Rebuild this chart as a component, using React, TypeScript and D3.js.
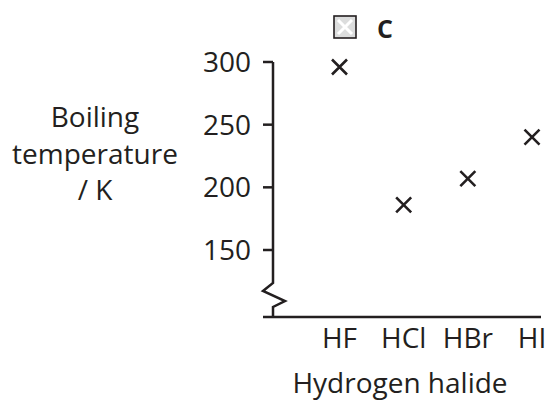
import React from "react";
import * as d3 from "d3";

const categories = ["HF", "HCl", "HBr", "HI"];
const boilingK = [296, 186, 207, 240];
const yTicks = [150, 200, 250, 300];
const yTitleLines = ["Boiling", "temperature", "/ K"];
const xTitle = "Hydrogen halide";
const legendLabel = "C";

const W = 547;
const H = 401;
const INK = "#231f20";
const FONT = "'Open Sans', 'Noto Sans', sans-serif";
const FS = 28;

export default function App() {
  const x = d3.scalePoint<string>().domain(categories).range([339.5, 532]);
  const y = d3.scaleLinear().domain([150, 300]).range([250, 62]);
  const axisX = 273;
  const baseY = 317;
  const breakTop = 283;
  const breakBottom = 308;
  const zig = d3.line()([
    [axisX, y(300)],
    [axisX, breakTop],
    [axisX - 10, breakTop + 8],
    [axisX + 12, breakTop + 18],
    [axisX, breakBottom - 1],
    [axisX, baseY],
  ]);
  const m = 7.5;
  return (
    <svg
      width={W}
      height={H}
      style={{ position: "absolute", left: 0, top: 0, background: "#fff" }}
      fontFamily={FONT}
    >
      <rect width={W} height={H} fill="#fff" />
      {/* legend */}
      <g>
        <rect x={334} y={16} width={22} height={22} fill="#dcdddd" stroke={INK} strokeWidth={1.6} />
        <path d="M338,20 L352,34 M352,20 L338,34" stroke="#fff" strokeWidth={3} />
        <text x={377} y={37.5} fontSize={25} fontWeight={700} fill={INK}>
          {legendLabel}
        </text>
      </g>
      {/* y axis */}
      <path d={zig ?? ""} fill="none" stroke={INK} strokeWidth={2.5} strokeLinejoin="miter" />
      {yTicks.map((t) => (
        <g key={t}>
          <line x1={axisX - 10} x2={axisX} y1={y(t)} y2={y(t)} stroke={INK} strokeWidth={2.5} />
          <text x={251} y={y(t)} dy="0.36em" textAnchor="end" fontSize={FS} fill={INK}>
            {t}
          </text>
        </g>
      ))}
      {/* x axis */}
      <line x1={263} x2={541} y1={baseY} y2={baseY} stroke={INK} strokeWidth={2.5} />
      {categories.map((c) => (
        <text key={c} x={x(c)} y={348} textAnchor="middle" fontSize={FS} fill={INK}>
          {c}
        </text>
      ))}
      <text x={400} y={393} textAnchor="middle" fontSize={FS} fill={INK}>
        {xTitle}
      </text>
      {yTitleLines.map((l, i) => (
        <text key={l} x={95} y={127 + i * 36.5} textAnchor="middle" fontSize={FS} fill={INK}>
          {l}
        </text>
      ))}
      {/* points */}
      {categories.map((c, i) => {
        const cx = x(c) as number;
        const cy = y(boilingK[i]);
        return (
          <path
            key={c}
            d={`M${cx - m},${cy - m}L${cx + m},${cy + m}M${cx + m},${cy - m}L${cx - m},${cy + m}`}
            stroke={INK}
            strokeWidth={2.6}
          />
        );
      })}
    </svg>
  );
}
